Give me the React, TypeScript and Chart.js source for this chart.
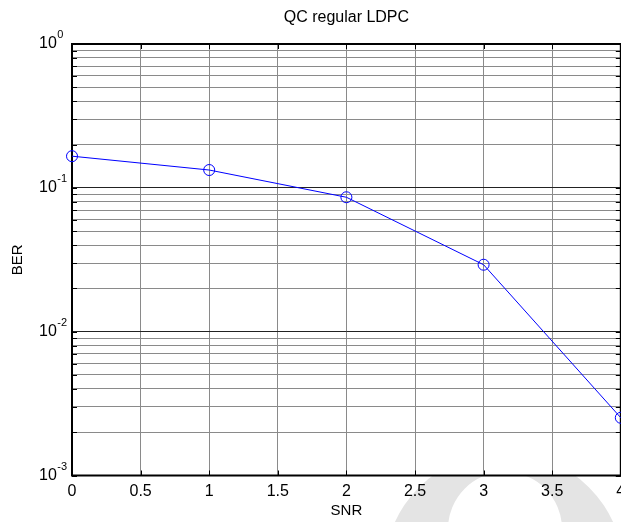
import React, { useEffect, useRef } from 'react';
import { Chart, registerables } from 'chart.js';

Chart.register(...registerables);

const FONT = "'Liberation Sans', Arial, sans-serif";

const titleText = 'QC regular LDPC';
const xLabel = 'SNR';
const yLabel = 'BER';

const snr = [0, 1, 2, 3, 4];
const ber = [0.166, 0.133, 0.086, 0.0292, 0.00252];

const xTicks = [0, 0.5, 1, 1.5, 2, 2.5, 3, 3.5, 4];
const xTickLabels = ['0', '0.5', '1', '1.5', '2', '2.5', '3', '3.5', '4'];

const yDecades = [0.001, 0.01, 0.1, 1];
const yExponents = ['-3', '-2', '-1', '0'];
const yMinorSteps = [1, 2, 3, 4, 5, 6, 7, 8, 9];

const yTicks: number[] = [];
yDecades.forEach((d, i) => {
  if (i === yDecades.length - 1) {
    yTicks.push(d);
  } else {
    yMinorSteps.forEach((m) => yTicks.push(+(m * d).toPrecision(6)));
  }
});

const isDecade = (v: number) => {
  const l = Math.log10(v);
  return Math.abs(l - Math.round(l)) < 1e-9;
};

const decorPlugin = {
  id: 'decor',
  beforeDraw(chart: any) {
    const { ctx, chartArea: a } = chart;
    ctx.save();
    // faint background watermark (mostly hidden behind the white plot area)
    ctx.fillStyle = '#e4e4e4';
    ctx.beginPath();
    ctx.arc(504, 572, 120, 0, Math.PI * 2);
    ctx.moveTo(505 + 57, 529);
    ctx.arc(505, 529, 57, 0, Math.PI * 2);
    ctx.fill('evenodd');
    ctx.fillStyle = '#fff';
    ctx.fillRect(a.left, a.top, a.right - a.left, a.bottom - a.top);
    ctx.restore();
  },
  beforeDatasetsDraw(chart: any) {
    const { ctx, chartArea: a, scales } = chart;
    const x = scales.x;
    const y = scales.y;
    ctx.save();
    // inward tick marks
    ctx.strokeStyle = '#000';
    ctx.lineWidth = 1;
    ctx.beginPath();
    xTicks.forEach((v) => {
      const px = Math.round(x.getPixelForValue(v)) + 0.5;
      ctx.moveTo(px, a.bottom);
      ctx.lineTo(px, a.bottom - 5);
      ctx.moveTo(px, a.top);
      ctx.lineTo(px, a.top + 5);
    });
    yTicks.forEach((v) => {
      const py = Math.round(y.getPixelForValue(v)) + 0.5;
      ctx.moveTo(a.left, py);
      ctx.lineTo(a.left + 5, py);
      ctx.moveTo(a.right, py);
      ctx.lineTo(a.right - 5, py);
    });
    ctx.stroke();
    // axes box
    ctx.lineWidth = 2;
    ctx.strokeRect(a.left, a.top, a.right - a.left, a.bottom - a.top);
    // y tick labels 10^k
    ctx.fillStyle = '#000';
    ctx.textBaseline = 'middle';
    yDecades.forEach((v, i) => {
      const py = y.getPixelForValue(v);
      ctx.font = `16px ${FONT}`;
      ctx.textAlign = 'left';
      const baseX = 39;
      ctx.fillText('10', baseX, py);
      const w = ctx.measureText('10').width;
      ctx.font = `11px ${FONT}`;
      ctx.fillText(yExponents[i], baseX + w + 0.5, py - 9);
    });
    ctx.restore();
  },
};

export default function App() {
  const ref = useRef<HTMLCanvasElement | null>(null);

  useEffect(() => {
    if (!ref.current) return;
    const chart = new Chart(ref.current, {
      type: 'line',
      data: {
        datasets: [
          {
            data: snr.map((s, i) => ({ x: s, y: ber[i] })),
            borderColor: '#0000ff',
            borderWidth: 1,
            backgroundColor: 'rgba(0,0,0,0)',
            pointStyle: 'circle',
            pointRadius: 5.5,
            pointBorderColor: '#0000ff',
            pointBorderWidth: 1,
            pointBackgroundColor: 'rgba(0,0,0,0)',
            tension: 0,
            clip: false as any,
          },
        ],
      },
      options: {
        responsive: false,
        animation: false,
        events: [],
        layout: {
          autoPadding: false,
          padding: { left: 0, right: 79.2, top: 0, bottom: 0 },
        } as any,
        plugins: {
          legend: { display: false },
          tooltip: { enabled: false },
          title: {
            display: true,
            fullSize: false,
            text: titleText,
            color: '#000',
            font: { family: FONT, size: 16, weight: 'normal', lineHeight: 1.2 },
            padding: { top: 8.4, bottom: 16.4 },
          },
        },
        scales: {
          x: {
            type: 'linear',
            min: 0,
            max: 4,
            afterBuildTicks: (scale: any) => {
              scale.ticks = xTicks.map((v) => ({ value: v }));
            },
            afterFit: (scale: any) => {
              scale.height = 46.5;
            },
            ticks: {
              color: '#000',
              font: { family: FONT, size: 16 },
              padding: 6,
              maxRotation: 0,
              autoSkip: false,
              callback: (v: any) => {
                const idx = xTicks.indexOf(Number(v));
                return idx >= 0 ? xTickLabels[idx] : '';
              },
            },
            grid: {
              color: '#8a8a8a',
              lineWidth: 1,
              drawTicks: false,
            },
            border: { display: false },
            title: {
              display: true,
              text: xLabel,
              color: '#000',
              font: { family: FONT, size: 15 },
              padding: { top: 0, bottom: 2 },
            },
          },
          y: {
            type: 'logarithmic',
            min: 0.001,
            max: 1,
            afterBuildTicks: (scale: any) => {
              scale.ticks = yTicks.map((v) => ({ value: v, major: isDecade(v) }));
            },
            afterFit: (scale: any) => {
              scale.width = 72;
            },
            ticks: { display: false },
            grid: {
              color: (ctx: any) =>
                ctx.tick && isDecade(ctx.tick.value) ? '#222' : '#8a8a8a',
              lineWidth: 1,
              drawTicks: false,
            },
            border: { display: false },
            title: {
              display: true,
              text: yLabel,
              color: '#000',
              font: { family: FONT, size: 15 },
              padding: { top: 9, bottom: 0 },
            },
          },
        },
      } as any,
      plugins: [decorPlugin],
    });
    return () => chart.destroy();
  }, []);

  return (
    <div
      style={{
        position: 'fixed',
        left: 0,
        top: 0,
        width: 621,
        height: 522,
        overflow: 'hidden',
        background: '#fff',
      }}
    >
      <canvas ref={ref} width={700} height={522} style={{ display: 'block' }} />
    </div>
  );
}
